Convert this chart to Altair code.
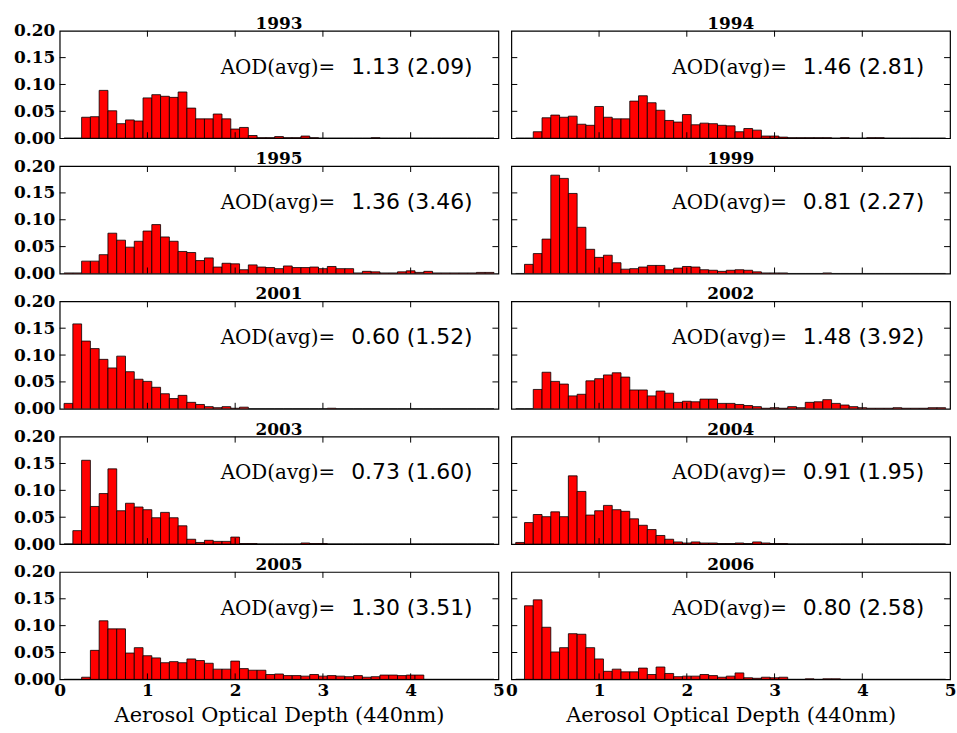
import altair as alt
import pandas as pd

# ---------------- data ----------------
years = [1993, 1994, 1995, 1999, 2001, 2002, 2003, 2004, 2005, 2006]
avg_aod = ["1.13", "1.46", "1.36", "0.81", "0.60", "1.48", "0.73", "0.91", "1.30", "0.80"]
sd_aod = ["2.09", "2.81", "3.46", "2.27", "1.52", "3.92", "1.60", "1.95", "3.51", "2.58"]

# bin centres 0.1 ... 4.9 (bin width 0.1)
bin_centres = [round(0.1 * k, 1) for k in range(1, 50)]

h1993 = [0, 0, 0.039, 0.040, 0.089, 0.051, 0.027, 0.034, 0.032, 0.075,
         0.081, 0.078, 0.076, 0.086, 0.056, 0.036, 0.036, 0.045, 0.036, 0.017,
         0.020, 0.005, 0.001, 0.001, 0.003, 0.001, 0.001, 0.004, 0.001, 0,
         0, 0, 0, 0, 0, 0.001, 0, 0, 0, 0,
         0, 0, 0, 0, 0, 0, 0, 0, 0]
h1994 = [0, 0, 0.012, 0.038, 0.043, 0.039, 0.041, 0.026, 0.024, 0.059,
         0.039, 0.036, 0.036, 0.069, 0.079, 0.066, 0.052, 0.033, 0.030, 0.044,
         0.025, 0.028, 0.027, 0.024, 0.023, 0.012, 0.018, 0.015, 0.004, 0.004,
         0.002, 0.001, 0.001, 0.001, 0.001, 0.001, 0, 0.001, 0, 0,
         0.001, 0.001, 0, 0, 0, 0, 0, 0, 0]
h1995 = [0.001, 0.001, 0.023, 0.023, 0.035, 0.075, 0.062, 0.049, 0.060, 0.079,
         0.091, 0.068, 0.060, 0.041, 0.039, 0.024, 0.029, 0.012, 0.019, 0.018,
         0.007, 0.016, 0.012, 0.011, 0.009, 0.014, 0.011, 0.011, 0.012, 0.009,
         0.013, 0.009, 0.009, 0.001, 0.004, 0.003, 0.001, 0.001, 0.003, 0.005,
         0.002, 0.004, 0.001, 0.001, 0.001, 0.001, 0.001, 0.002, 0.002]
h1999 = [0, 0.017, 0.037, 0.064, 0.183, 0.177, 0.149, 0.086, 0.045, 0.030,
         0.034, 0.020, 0.008, 0.009, 0.012, 0.015, 0.015, 0.007, 0.010, 0.013,
         0.012, 0.007, 0.006, 0.004, 0.006, 0.007, 0.006, 0.003, 0.001, 0.001,
         0.001, 0, 0, 0, 0, 0.001, 0, 0, 0, 0,
         0, 0, 0, 0, 0, 0, 0, 0, 0]
h2001 = [0.010, 0.158, 0.126, 0.112, 0.092, 0.076, 0.098, 0.069, 0.055, 0.051,
         0.040, 0.028, 0.019, 0.025, 0.012, 0.008, 0.004, 0.002, 0.004, 0.001,
         0.003, 0, 0, 0, 0, 0, 0, 0, 0, 0,
         0.001, 0, 0, 0, 0, 0, 0, 0, 0, 0,
         0, 0, 0, 0, 0, 0, 0, 0, 0]
h2002 = [0, 0, 0.036, 0.068, 0.051, 0.046, 0.024, 0.027, 0.052, 0.056,
         0.063, 0.067, 0.059, 0.035, 0.035, 0.024, 0.033, 0.029, 0.012, 0.014,
         0.013, 0.018, 0.018, 0.010, 0.010, 0.008, 0.006, 0.004, 0.001, 0.002,
         0.001, 0.004, 0.002, 0.012, 0.013, 0.017, 0.010, 0.007, 0.004, 0.002,
         0.001, 0.001, 0.001, 0.002, 0.001, 0.001, 0.001, 0.002, 0.002]
h2003 = [0, 0.025, 0.156, 0.070, 0.094, 0.140, 0.062, 0.076, 0.069, 0.064,
         0.049, 0.059, 0.049, 0.034, 0.009, 0.003, 0.007, 0.005, 0.005, 0.013,
         0.001, 0.001, 0, 0, 0, 0, 0, 0.002, 0.001, 0.001,
         0, 0, 0, 0, 0, 0, 0, 0, 0, 0,
         0, 0, 0, 0, 0, 0, 0, 0, 0]
h2004 = [0.003, 0.040, 0.055, 0.051, 0.060, 0.051, 0.127, 0.098, 0.054, 0.062,
         0.072, 0.064, 0.061, 0.047, 0.035, 0.027, 0.016, 0.009, 0.004, 0.002,
         0.004, 0.002, 0.002, 0.001, 0.001, 0.002, 0.001, 0.004, 0.002, 0.001,
         0.001, 0, 0, 0, 0, 0, 0, 0, 0, 0,
         0, 0, 0, 0, 0, 0, 0, 0, 0]
h2005 = [0, 0, 0.004, 0.054, 0.109, 0.094, 0.094, 0.049, 0.059, 0.044,
         0.040, 0.031, 0.033, 0.031, 0.038, 0.035, 0.030, 0.019, 0.019, 0.034,
         0.020, 0.017, 0.017, 0.009, 0.010, 0.007, 0.007, 0.006, 0.009, 0.006,
         0.007, 0.006, 0.005, 0.007, 0.004, 0.005, 0.008, 0.008, 0.007, 0.008,
         0.008, 0, 0, 0, 0, 0, 0, 0, 0]
h2006 = [0, 0.137, 0.148, 0.097, 0.051, 0.059, 0.085, 0.084, 0.059, 0.038,
         0.015, 0.019, 0.014, 0.014, 0.021, 0.009, 0.023, 0.011, 0.005, 0.006,
         0.006, 0.009, 0.007, 0.004, 0.006, 0.012, 0.003, 0.002, 0.004, 0.003,
         0.004, 0, 0, 0.001, 0, 0.001, 0.001, 0, 0, 0,
         0, 0, 0, 0, 0, 0, 0, 0, 0]

heights = [h1993, h1994, h1995, h1999, h2001, h2002, h2003, h2004, h2005, h2006]

x_tick_values = [1, 2, 3, 4]
y_tick_values = [0.05, 0.10, 0.15]
x_label_values = [0, 1, 2, 3, 4, 5]
y_label_values = [0.0, 0.05, 0.10, 0.15, 0.20]

# ---------------- layout / style ----------------
W, H = 441, 108
TICK = 6
SERIF = "DejaVu Serif"
SANS = "DejaVu Sans"

xscale = alt.Scale(domain=[0, 5], nice=False, zero=False)
yscale = alt.Scale(domain=[0, 0.2], nice=False)


def panel(i):
    col = i % 2
    row = i // 2
    df = pd.DataFrame({
        "lo": [c - 0.05 for c in bin_centres],
        "hi": [c + 0.05 for c in bin_centres],
        "v": heights[i],
    })
    if row == 4:
        xaxis = alt.Axis(values=x_label_values, format="d", ticks=False, domain=False,
                         grid=False, labelFlush=False, labelFont=SERIF,
                         labelFontWeight="bold", labelFontSize=17, labelColor="black",
                         labelPadding=3, title="Aerosol Optical Depth (440nm)",
                         titleFont=SERIF, titleFontWeight="normal", titleFontSize=21,
                         titleColor="black", titlePadding=6)
    else:
        xaxis = None
    if col == 0:
        yaxis = alt.Axis(values=y_label_values, format=".2f", ticks=False, domain=False,
                         grid=False, labelFlush=False, labelFont=SERIF,
                         labelFontWeight="bold", labelFontSize=17, labelColor="black",
                         labelPadding=5, title=None)
    else:
        yaxis = None

    bars = alt.Chart(df).mark_bar(color="#ff0000", stroke="black", strokeWidth=0.8,
                                  clip=True).encode(
        x=alt.X("lo:Q", scale=xscale, axis=xaxis),
        x2="hi:Q",
        y=alt.Y("v:Q", scale=yscale, axis=yaxis),
        y2=alt.datum(0),
    )

    xt = pd.DataFrame({"t": x_tick_values})
    yt = pd.DataFrame({"t": y_tick_values})
    tick_top = alt.Chart(xt).mark_rule(color="black", strokeWidth=1).encode(
        x=alt.X("t:Q", scale=xscale, axis=xaxis), y=alt.value(0), y2=alt.value(TICK))
    tick_bot = alt.Chart(xt).mark_rule(color="black", strokeWidth=1).encode(
        x=alt.X("t:Q", scale=xscale, axis=xaxis), y=alt.value(H), y2=alt.value(H - TICK))
    tick_left = alt.Chart(yt).mark_rule(color="black", strokeWidth=1).encode(
        y=alt.Y("t:Q", scale=yscale, axis=yaxis), x=alt.value(0), x2=alt.value(TICK))
    tick_right = alt.Chart(yt).mark_rule(color="black", strokeWidth=1).encode(
        y=alt.Y("t:Q", scale=yscale, axis=yaxis), x=alt.value(W), x2=alt.value(W - TICK))

    lab = pd.DataFrame({"a": ["AOD(avg)="], "n": [f"{avg_aod[i]} ({sd_aod[i]})"],
                        "yr": [str(years[i])]})
    txt_a = alt.Chart(lab).mark_text(font=SERIF, fontSize=20, align="right",
                                     baseline="alphabetic", color="black").encode(
        text="a:N", x=alt.value(277), y=alt.value(43))
    txt_n = alt.Chart(lab).mark_text(font=SANS, fontSize=22, align="left",
                                     baseline="alphabetic", color="black").encode(
        text="n:N", x=alt.value(293), y=alt.value(43))
    txt_t = alt.Chart(lab).mark_text(font=SERIF, fontSize=17, fontWeight="bold",
                                     align="center", baseline="alphabetic",
                                     color="black").encode(
        text="yr:N", x=alt.value(W / 2), y=alt.value(-2))

    return alt.layer(bars, tick_top, tick_bot, tick_left, tick_right,
                     txt_a, txt_n, txt_t).properties(width=W, height=H)


chart = alt.concat(*[panel(i) for i in range(10)], columns=2,
                   spacing={"row": 28, "column": 13}, bounds="flush").properties(
    padding={"left": 12, "top": 12, "right": 0, "bottom": 4},
    background="white",
).configure_view(stroke="black", strokeWidth=1.2)

chart.save("out.html", embed_options={"renderer": "svg", "actions": False})
